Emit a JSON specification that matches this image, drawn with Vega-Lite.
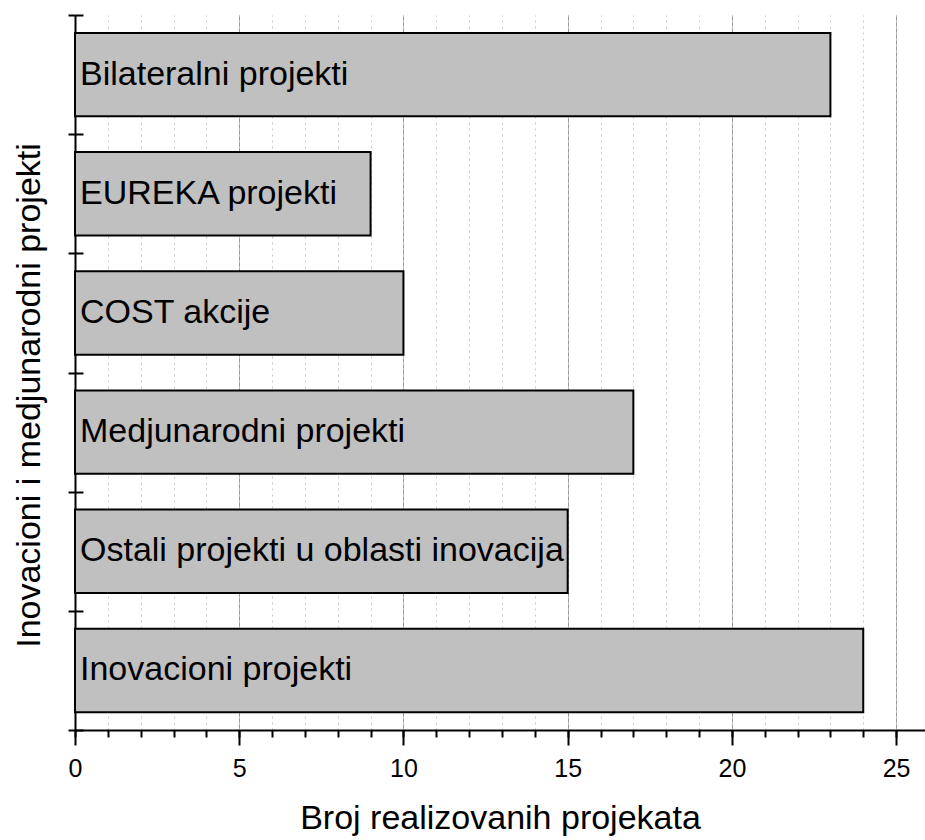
{
  "$schema": "https://vega.github.io/schema/vega-lite/v6.json",
  "autosize": "none",
  "width": 850,
  "height": 715,
  "padding": {"left": 75, "top": 15, "right": 0, "bottom": 110},
  "background": "white",
  "config": {"view": {"stroke": null}, "font": "Liberation Sans"},
  "data": {"values": [
    {"category": "Bilateralni projekti", "value": 23},
    {"category": "EUREKA projekti", "value": 9},
    {"category": "COST akcije", "value": 10},
    {"category": "Medjunarodni projekti", "value": 17},
    {"category": "Ostali projekti u oblasti inovacija", "value": 15},
    {"category": "Inovacioni projekti", "value": 24}
  ]},
  "layer": [
    {
      "mark": {"type": "bar", "fill": "#c0c0c0", "stroke": "black", "strokeWidth": 2, "height": {"band": 0.7}},
      "encoding": {
        "y": {"field": "category", "type": "nominal", "sort": null,
          "scale": {"paddingInner": 0, "paddingOuter": 0},
          "axis": {"orient": "left", "labels": false, "ticks": true, "tickBand": "extent", "tickSize": 7, "tickWidth": 2, "tickColor": "black", "domainColor": "black", "domainWidth": 2, "grid": false,
            "title": "Inovacioni i medjunarodni projekti", "titleFontSize": 34, "titleFontWeight": "normal", "titleColor": "black", "titlePadding": 21, "titleFont": "Liberation Sans", "titleY": 380}},
        "x": {"field": "value", "type": "quantitative",
          "scale": {"domain": [0, 25.88], "nice": false, "zero": true},
          "axis": {"orient": "bottom", "values": [0, 5, 10, 15, 20, 25], "tickSize": 15, "tickWidth": 2, "tickColor": "black", "domainColor": "black", "domainWidth": 2,
            "labelFontSize": 25, "labelPadding": 11, "labelColor": "black", "labelFont": "Liberation Sans", "labelFlush": false,
            "grid": true, "gridColor": "#9a9a9a", "gridWidth": 1,
            "title": "Broj realizovanih projekata", "titleFontSize": 34, "titleFontWeight": "normal", "titleColor": "black", "titlePadding": 20, "titleFont": "Liberation Sans"}}
      }
    },
    {
      "mark": {"type": "text", "align": "left", "baseline": "middle", "dx": 5, "fontSize": 34, "font": "Liberation Sans", "fill": "black"},
      "encoding": {
        "y": {"field": "category", "type": "nominal", "sort": null,
          "axis": {"orient": "left", "labels": false, "domain": false, "ticks": true, "tickBand": "extent", "tickSize": -8, "tickWidth": 2, "tickColor": "black", "grid": false, "title": null}},
        "x": {"datum": 0, "type": "quantitative",
          "axis": {"orient": "bottom", "values": [0,1,2,3,4,5,6,7,8,9,10,11,12,13,14,15,16,17,18,19,20,21,22,23,24,25], "labels": false, "domain": false, "tickSize": 7, "tickWidth": 2, "tickColor": "black",
            "grid": true, "gridColor": "#c8c8c8", "gridDash": [2, 4], "gridWidth": 1, "title": null}},
        "text": {"field": "category", "type": "nominal"}
      }
    }
  ],
  "resolve": {"axis": {"x": "independent", "y": "independent"}}
}
